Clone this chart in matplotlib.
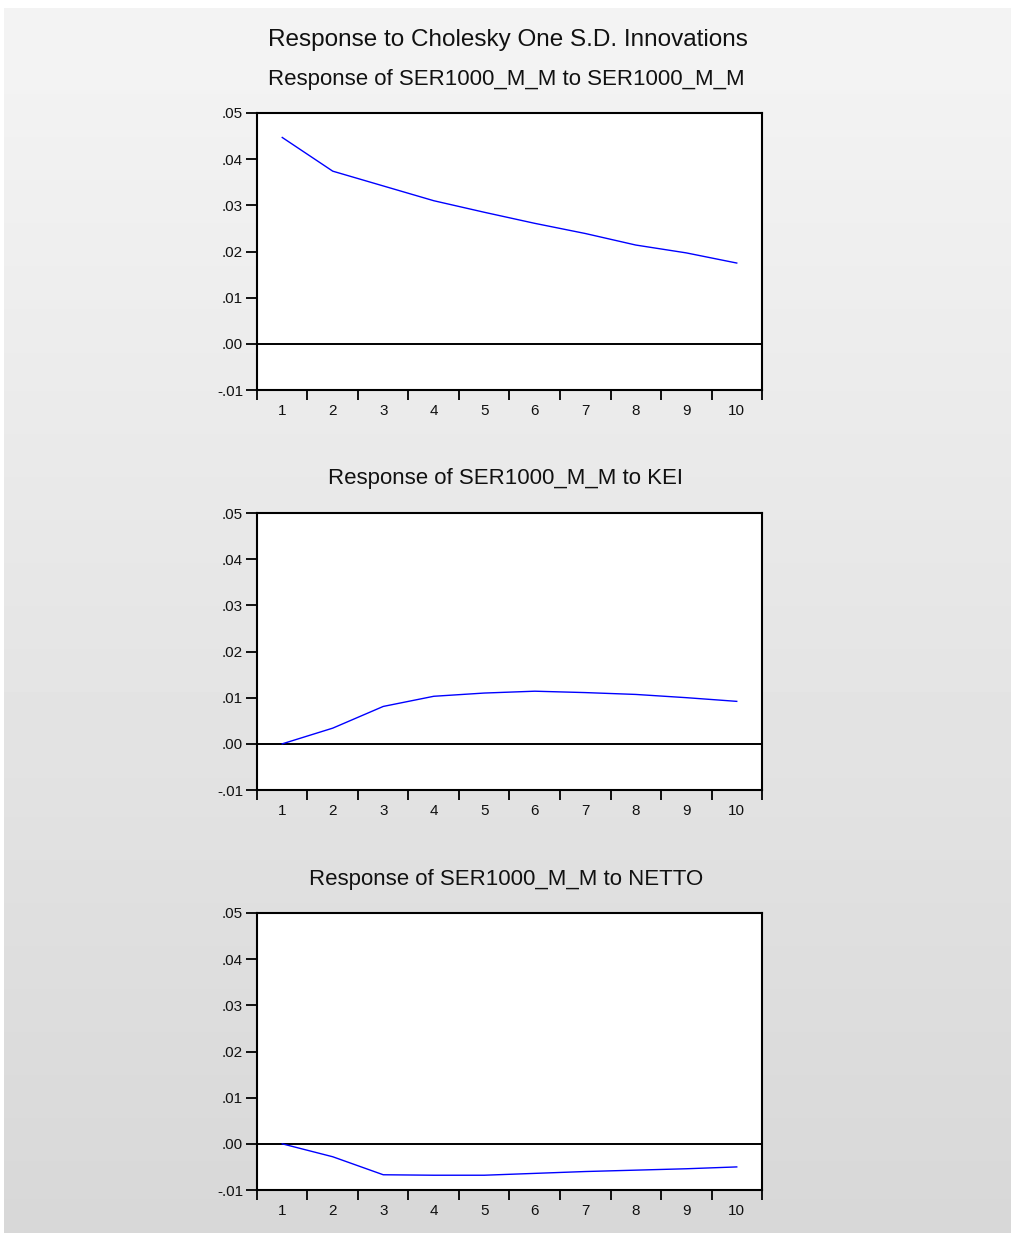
import numpy as np
import matplotlib
matplotlib.use("Agg")
import matplotlib.pyplot as plt
from matplotlib.ticker import FixedLocator, NullFormatter

plt.rcParams["font.family"] = ["Liberation Sans", "DejaVu Sans"]

# impulse responses of SER1000_M_M, periods 1..10
periods = list(range(1, 11))
resp_ser = [0.0447, 0.0374, 0.0342, 0.0310, 0.0285, 0.0261, 0.0239, 0.0214, 0.0197, 0.0175]
resp_kei = [0.0000, 0.0034, 0.0081, 0.0103, 0.0110, 0.0114, 0.0111, 0.0107, 0.0100, 0.0092]
resp_netto = [0.0000, -0.0028, -0.0067, -0.0068, -0.0068, -0.0064, -0.0060, -0.0057, -0.0054, -0.0050]

titles = ["Response of SER1000_M_M to SER1000_M_M",
          "Response of SER1000_M_M to KEI",
          "Response of SER1000_M_M to NETTO"]
series = [resp_ser, resp_kei, resp_netto]
yticks = [-0.01, 0.00, 0.01, 0.02, 0.03, 0.04, 0.05]
ytick_labels = ["-.01", ".00", ".01", ".02", ".03", ".04", ".05"]

W, H = 1012, 1233
fig = plt.figure(figsize=(W / 100, H / 100), dpi=100)
fig.patch.set_facecolor("white")

# grey gradient panel behind everything (screenshot window background)
bg = fig.add_axes([4 / W, 0, 1 - 4 / W, 1 - 8 / H], zorder=-10)
grad = np.linspace(0.957, 0.845, 256).reshape(-1, 1)
bg.imshow(grad, aspect="auto", cmap="gray", vmin=0, vmax=1, extent=[0, 1, 0, 1])
bg.set_axis_off()

fig.text(508 / W, 1 - 40 / H, "Response to Cholesky One S.D. Innovations",
         ha="center", va="center", fontsize=17.5, color="#111111")

tops = [113, 513, 913]
ax_h = 277
for top, title, y in zip(tops, titles, series):
    ax = fig.add_axes([257 / W, 1 - (top + ax_h) / H, 505 / W, ax_h / H])
    ax.set_facecolor("white")
    ax.plot(periods, y, color="#0000ff", lw=1.0, zorder=3)
    ax.axhline(0, color="black", lw=1.4, zorder=2)
    ax.set_xlim(0.5, 10.5)
    ax.set_ylim(-0.01, 0.05)
    ax.set_yticks(yticks)
    ax.set_yticklabels(ytick_labels)
    ax.xaxis.set_major_locator(FixedLocator(np.arange(0.5, 11, 1.0)))
    ax.xaxis.set_major_formatter(NullFormatter())
    ax.xaxis.set_minor_locator(FixedLocator(periods))
    ax.set_xticklabels([str(p) for p in periods], minor=True)
    ax.tick_params(axis="x", which="major", direction="out", length=7, width=1.3)
    ax.tick_params(axis="x", which="minor", length=0, pad=10, labelsize=11,
                   labelcolor="#111111")
    ax.tick_params(axis="y", direction="out", length=8, width=1.3, pad=2, labelsize=11,
                   labelcolor="#111111")
    for sp in ax.spines.values():
        sp.set_linewidth(1.5)
    fig.text(506 / W, 1 - (top - 34) / H, title, ha="center", va="center",
             fontsize=16, color="#111111")

fig.savefig("out.png", dpi=100)
